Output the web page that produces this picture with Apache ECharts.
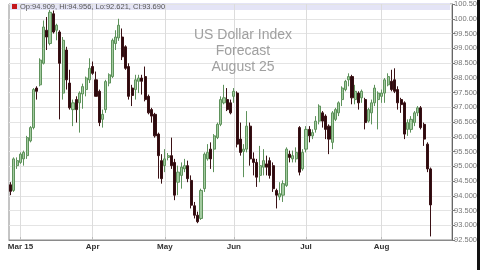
<!DOCTYPE html>
<html><head><meta charset="utf-8">
<script src="https://cdn.jsdelivr.net/npm/echarts@6/dist/echarts.min.js"></script>
<style>html,body{margin:0;padding:0;background:#fff;overflow:hidden}#c{width:480px;height:270px}</style>
</head><body><div id="c"></div>
<script>
// daily candles, first trading day and number of empty trailing slots
const startDate = '2015-02-25';
const padCount = 6;
// [open, close, low, high]
const ohlc = [
[94.37,94.15,94.02,94.46],[94.18,95.25,94.13,95.30],[95.02,95.19,94.91,95.30],[95.13,95.41,95.08,95.47],
[95.25,95.47,95.02,95.53],[95.36,95.97,95.25,96.03],[95.86,96.31,95.81,96.36],[96.31,97.60,96.25,97.65],
[97.65,97.54,97.26,97.71],[97.76,98.60,97.71,98.66],[98.49,99.72,98.45,99.94],[99.61,99.38,98.94,100.06],
[99.16,100.22,99.10,100.30],[100.17,99.55,99.50,100.28],[99.61,99.78,99.27,99.83],[99.55,98.49,96.59,99.61],
[97.48,99.27,97.26,99.38],[98.94,97.93,97.60,99.05],[97.82,96.98,96.92,98.27],[96.92,97.15,96.36,97.26],
[97.26,96.92,96.48,97.37],[97.15,97.48,96.14,97.54],[97.45,97.70,96.95,97.80],[97.60,97.99,97.37,98.04],
[97.93,98.32,97.82,98.66],[98.38,98.15,98.10,98.55],[97.93,97.37,97.37,98.21],[97.54,96.48,96.36,97.60],
[96.59,96.76,96.31,96.92],[96.92,97.87,96.81,97.93],[97.82,98.10,97.71,98.15],[98.04,99.27,97.99,99.33],
[99.16,99.38,98.94,99.61],[99.35,99.78,99.25,100.00],[99.38,98.71,98.60,99.67],[99.05,98.32,98.27,99.10],
[98.38,97.37,97.26,98.49],[97.65,97.40,97.04,97.76],[97.60,97.93,97.26,98.10],[97.88,97.99,97.48,98.10],
[97.99,97.88,97.43,98.10],[98.04,97.26,97.20,98.38],[97.37,96.81,96.76,97.43],[96.92,96.70,96.48,96.98],
[96.76,96.03,95.97,96.81],[96.09,95.36,94.58,96.14],[95.19,94.58,94.41,95.41],[95.02,95.25,94.80,95.58],
[95.30,95.36,95.20,95.45],[95.36,95.02,94.91,95.97],[95.13,94.02,93.85,95.25],[94.46,94.80,94.02,95.02],
[94.69,94.97,94.24,95.13],[94.91,95.02,94.80,95.25],[95.02,94.58,94.46,95.19],[94.52,93.68,93.57,94.69],
[93.66,93.34,93.23,93.79],[93.34,93.12,93.07,93.46],[93.23,94.18,93.18,94.24],[94.24,95.41,94.13,95.47],
[95.25,95.47,95.19,95.75],[95.58,95.25,94.91,95.81],[95.58,96.03,94.80,96.09],[95.97,96.42,95.92,96.48],
[96.42,97.26,96.36,97.37],[97.15,97.32,97.10,97.76],[97.26,96.92,96.87,97.65],[97.15,96.81,96.76,97.26],
[97.37,97.54,97.15,97.65],[97.48,95.75,95.64,97.54],[95.92,95.47,95.36,96.48],[95.50,95.58,94.63,95.75],
[95.58,96.36,95.47,96.87],[96.36,95.25,95.02,96.48],[95.25,95.13,94.69,95.47],[95.13,94.63,94.30,95.25],
[94.69,95.02,94.46,95.69],[94.97,95.19,94.69,95.58],[95.08,94.97,94.69,95.36],[95.19,94.69,94.58,95.30],
[95.02,94.24,94.13,95.13],[94.18,94.02,93.57,94.24],[93.96,94.07,93.85,94.46],[94.02,94.41,93.79,94.52],
[94.35,95.58,94.30,95.64],[95.41,95.30,95.13,95.53],[95.25,95.36,95.13,95.53],[95.25,95.47,95.13,95.64],
[96.31,94.80,94.69,96.36],[94.91,95.47,94.85,95.58],[95.58,96.25,95.47,96.36],[96.25,96.03,95.81,96.36],
[96.03,96.14,95.92,96.25],[96.25,96.53,96.14,96.70],[96.53,97.04,96.42,97.10],[96.81,96.53,96.31,96.87],
[96.70,96.25,95.92,96.76],[96.36,95.92,95.41,96.42],[95.81,96.81,95.58,96.87],[96.59,96.92,96.53,96.98],
[96.81,97.15,96.70,97.20],[97.26,97.65,97.04,97.71],[97.60,97.88,97.54,97.93],[97.93,98.04,97.71,98.15],
[98.04,97.32,97.10,98.10],[97.26,97.54,97.10,97.76],[97.48,97.15,96.92,97.54],[97.32,97.54,97.15,97.60],
[97.26,96.48,96.25,97.32],[96.53,96.92,96.48,96.98],[96.81,97.15,96.42,97.26],[97.15,97.65,97.04,97.76],
[97.26,97.48,96.25,97.54],[97.37,97.48,97.15,97.60],[97.48,97.93,97.15,97.99],[97.76,98.04,97.71,98.15],
[97.88,97.60,97.54,98.27],[97.93,97.54,97.48,98.32],[97.60,97.15,96.92,97.71],[97.26,97.09,96.81,97.32],
[97.15,96.09,95.92,97.20],[96.25,96.48,96.03,96.59],[96.25,96.59,96.14,96.70],[96.48,96.81,96.36,96.87],
[96.81,96.98,96.70,97.04],[96.98,96.31,96.25,97.04],[96.42,95.92,95.69,96.48],[95.75,94.91,94.80,95.81],
[94.909,93.690,92.621,94.956]
];
const tickLabels = {'2015-03-02':'Mar 15','2015-04-01':'Apr','2015-05-01':'May','2015-06-01':'Jun','2015-07-01':'Jul','2015-08-03':'Aug'};
const yMin = 92.5, yMax = 100.5, yStep = 0.5;
const titleLines = ['US Dollar Index','Forecast','August 25'];

// weekday categories
const dates = [];
(function(){
  const d = new Date(startDate + 'T12:00:00Z');
  while (dates.length < ohlc.length + padCount) {
    const wd = d.getUTCDay();
    if (wd !== 0 && wd !== 6) dates.push(d.toISOString().slice(0,10));
    d.setUTCDate(d.getUTCDate() + 1);
  }
})();
const seriesData = dates.map((dt, i) => i < ohlc.length ? ohlc[i] : '-');
const last = ohlc[ohlc.length - 1];
const headerText = 'Op:' + last[0].toFixed(3) + ', Hi:' + last[3].toFixed(3) + ', Lo:' + last[2].toFixed(3) + ', Cl:' + last[1].toFixed(3);
const showTick = (idx, val) => !!tickLabels[val];
const FONT = '"Liberation Sans", Arial, sans-serif';

const chart = echarts.init(document.getElementById('c'), null, {renderer: 'canvas'});
chart.setOption({
  animation: false,
  backgroundColor: '#ffffff',
  title: {
    text: titleLines.join('\n'), left: 238, top: 22, textAlign: 'center',
    textStyle: {fontFamily: FONT, fontSize: 14, fontWeight: 'normal', color: '#a0a0a0', lineHeight: 16}
  },
  grid: {left: 9, right: 27, top: 2, bottom: 30, show: true, borderColor: '#8a8a8a', borderWidth: 1, backgroundColor: 'transparent'},
  graphic: [
    {type: 'rect', z: 0, shape: {x: 10, y: 3, width: 440, height: 7}, style: {fill: '#e4e4f6'}},
    {type: 'rect', z: 10, shape: {x: 12, y: 4, width: 5, height: 5}, style: {fill: '#c3161c'}},
    {type: 'text', z: 10, x: 20, y: 3, style: {text: headerText, fontFamily: FONT, fontSize: 7.5, fill: '#555'}},
    {type: 'rect', z: 10, shape: {x: 477, y: 0, width: 3, height: 270}, style: {fill: '#111'}}
  ],
  xAxis: {
    type: 'category', data: dates, boundaryGap: true,
    axisLine: {show: true, lineStyle: {color: '#8a8a8a'}},
    axisTick: {show: true, interval: showTick, alignWithLabel: true, length: -3, lineStyle: {color: '#bbb'}},
    axisLabel: {interval: showTick, formatter: v => tickLabels[v] || '', fontFamily: FONT, fontSize: 8, fontWeight: 'bold', color: '#333', margin: 3},
    splitLine: {show: true, interval: showTick, alignWithLabel: true, lineStyle: {color: '#dcdcdc', width: 1}}
  },
  yAxis: {
    type: 'value', position: 'right', min: yMin, max: yMax, interval: yStep, scale: true,
    axisLine: {show: true, lineStyle: {color: '#666'}},
    axisTick: {show: true, length: 3, lineStyle: {color: '#777'}},
    axisLabel: {fontFamily: FONT, fontSize: 7.5, color: '#777', margin: 2,
      formatter: v => v >= 100 ? v.toFixed(2) : v.toFixed(3)},
    splitLine: {show: true, lineStyle: {color: '#e4e4e4', width: 1}}
  },
  series: [{
    type: 'candlestick', data: seriesData, barWidth: 2.6,
    itemStyle: {color: '#a3cba0', borderColor: '#5e925b', color0: '#2a0a0e', borderColor0: '#3a1014', borderWidth: 1},
    markLine: {
      silent: true, symbol: 'none', animation: false,
      lineStyle: {opacity: 0},
      label: {position: 'end', distance: 2, formatter: p => p.value.toFixed(3), backgroundColor: '#000', color: '#fff',
        fontFamily: FONT, fontSize: 7.5, padding: [1, 1, 0, 1]},
      data: [{yAxis: last[1]}]
    }
  }]
});
</script></body></html>
